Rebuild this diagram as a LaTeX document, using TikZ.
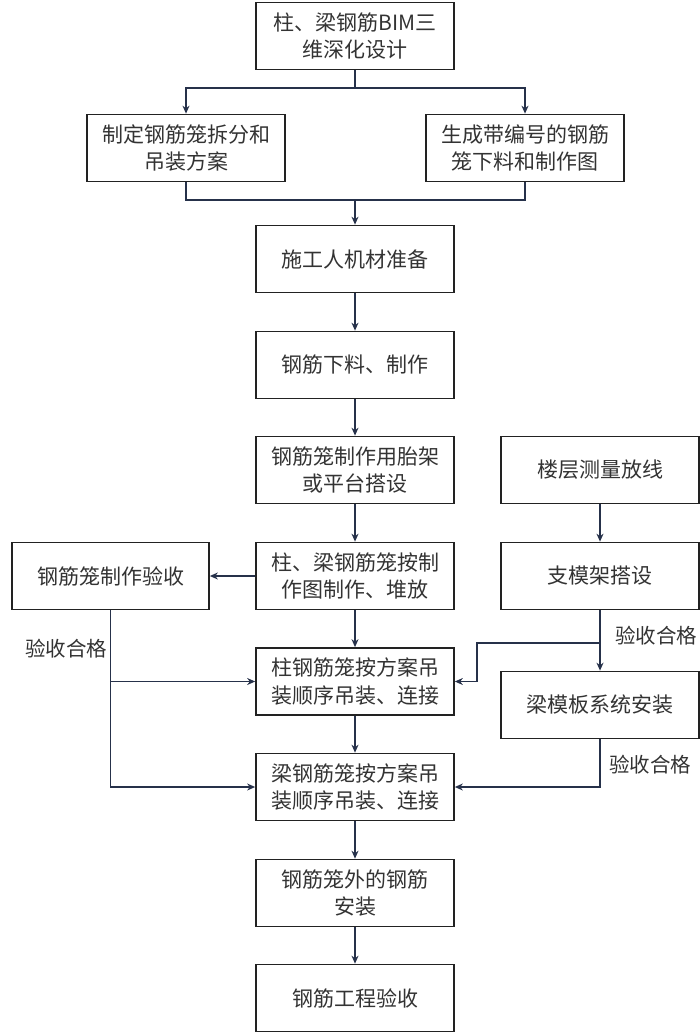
\documentclass[tikz,border=0pt]{standalone}
\usepackage{fontspec}
\setmainfont{Noto Sans CJK SC}
\usetikzlibrary{arrows.meta}
\definecolor{boxline}{HTML}{222222}
\definecolor{linkline}{HTML}{26314A}
\definecolor{txt}{HTML}{333333}
\begin{document}
\begin{tikzpicture}[x=1pt,y=-1pt,
  box/.style={draw=boxline,line width=1.7pt,minimum width=198pt,minimum height=67pt,
    inner sep=0pt,align=center,text=txt,font=\fontsize{21}{27.5}\selectfont},
  note/.style={text=txt,font=\fontsize{20.5}{27}\selectfont,inner sep=0pt},
  link/.style={draw=linkline,line width=1.2pt},
  go/.style={link,-{Stealth[length=8pt,width=7pt]}}]
  \useasboundingbox (0,0) rectangle (699,1032);

  \node[box] (design) at (355,36) {柱、梁钢筋BIM三\\维深化设计};
  \node[box] (split) at (186,148) {制定钢筋笼拆分和\\吊装方案};
  \node[box] (draw) at (525,148) {生成带编号的钢筋\\笼下料和制作图};
  \node[box] (prep) at (355,259) {施工人机材准备};
  \node[box] (cut) at (355,365) {钢筋下料、制作};
  \node[box] (frame) at (355,470) {钢筋笼制作用胎架\\或平台搭设};
  \node[box] (survey) at (600,470) {楼层测量放线};
  \node[box,minimum width=197pt] (check) at (110.5,576) {钢筋笼制作验收};
  \node[box] (make) at (355,576) {柱、梁钢筋笼按制\\作图制作、堆放};
  \node[box] (support) at (600,576) {支模架搭设};
  \node[box] (column) at (355,681.5) {柱钢筋笼按方案吊\\装顺序吊装、连接};
  \node[box] (form) at (600,705) {梁模板系统安装};
  \node[box] (beam) at (355,787) {梁钢筋笼按方案吊\\装顺序吊装、连接};
  \node[box] (outer) at (355,893) {钢筋笼外的钢筋\\安装};
  \node[box] (final) at (355,998) {钢筋工程验收};

  \node[note] (okL) at (66,649) {验收合格};
  \node[note] (okR) at (656,636) {验收合格};
  \node[note] (okF) at (650,765) {验收合格};

  \coordinate (fork) at (355,88);
  \coordinate (join) at (355,200);
  \coordinate (tap) at (600,643);

  \draw[link] (design) -- (fork);
  \draw[go] (fork) -| (split);
  \draw[go] (fork) -| (draw);
  \draw[link] (split) |- (join);
  \draw[link] (draw) |- (join);
  \draw[go] (join) -- (prep);
  \draw[go] (prep) -- (cut);
  \draw[go] (cut) -- (frame);
  \draw[go] (frame) -- (make);
  \draw[go] (make) -- (check);
  \draw[go] (make) -- (column);
  \draw[go] (column) -- (beam);
  \draw[go] (beam) -- (outer);
  \draw[go] (outer) -- (final);
  \draw[go] (check.south) |- (beam.west);
  \draw[go] (check.south |- column.west) -- (column.west);
  \draw[go] (survey) -- (support);
  \draw[go] (support) -- (form);
  \draw[go] (tap) -- (477,643) |- (column.east);
  \draw[go] (form.south) |- (beam.east);
\end{tikzpicture}
\end{document}
